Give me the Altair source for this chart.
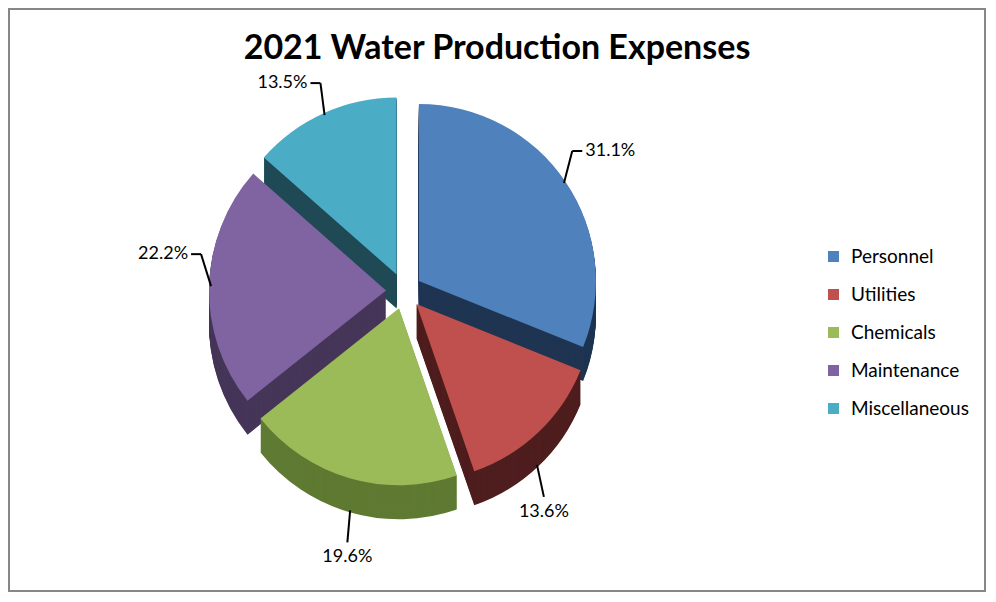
import altair as alt
import pandas as pd

# ─────────────────────────────────────────────────────────────────────────────
# DATI
# ─────────────────────────────────────────────────────────────────────────────
categorie = ["Personnel", "Utilities", "Chemicals", "Maintenance", "Miscellaneous"]
quote = [31.1, 13.6, 19.6, 22.2, 13.5]
colori_top = ["#4F81BD", "#C0504D", "#9BBB59", "#8064A2", "#4BACC6"]
colori_lato = ["#1F3552", "#4F1E1E", "#5F7A32", "#463659", "#1F4A55"]

df = pd.DataFrame({"Voce": categorie, "Quota": quote, "Ordine": range(len(categorie))})

# geometria (pixel della vista)
CX, CY = 395, 282
R = 177          # raggio della torta
ESPLOSO = 18     # distanza delle fette dal centro
SPESSORE = 34    # profondità del finto 3D
LEADER = 32      # lunghezza delle linee guida

theta_enc = alt.Theta("inizio:Q", scale=alt.Scale(domain=[0, 100], range=[0, 6.283185307]))
x_enc = alt.X("cx:Q", scale=None, axis=None)
y_enc = alt.Y("cy:Q", scale=None, axis=None)

# ─────────────────────────────────────────────────────────────────────────────
# LATI (strati scuri spostati verso il basso)
# ─────────────────────────────────────────────────────────────────────────────
lati = alt.layer(
    *[
        alt.Chart()
        .mark_arc(radius=R, yOffset=k)
        .encode(
            theta=theta_enc,
            theta2="fine:Q",
            x=x_enc,
            y=y_enc,
            color=alt.Color(
                "Voce:N", scale=alt.Scale(domain=categorie, range=colori_lato), legend=None
            ),
        )
        for k in range(SPESSORE, 0, -1)
    ]
)

# ─────────────────────────────────────────────────────────────────────────────
# FACCIA SUPERIORE
# ─────────────────────────────────────────────────────────────────────────────
top = (
    alt.Chart()
    .mark_arc(radius=R)
    .encode(
        theta=theta_enc,
        theta2="fine:Q",
        x=x_enc,
        y=y_enc,
        color=alt.Color(
            "Voce:N",
            scale=alt.Scale(domain=categorie, range=colori_top),
            legend=alt.Legend(
                title=None,
                orient="none",
                legendX=815,
                legendY=238,
                symbolType="square",
                symbolSize=121,
                symbolStrokeWidth=0,
                labelFont="Lato",
                labelFontSize=19,
                labelColor="#000000",
                rowPadding=18,
                labelOffset=8,
            ),
        ),
    )
)

# ─────────────────────────────────────────────────────────────────────────────
# LINEE GUIDA ED ETICHETTE
# ─────────────────────────────────────────────────────────────────────────────
linee = (
    alt.Chart()
    .mark_rule(color="#000000", strokeWidth=2)
    .encode(
        x=alt.X("px:Q", scale=None, axis=None),
        y=alt.Y("py:Q", scale=None, axis=None),
        x2="ex:Q",
        y2="ey:Q",
    )
)

tacche = (
    alt.Chart()
    .transform_filter("datum.c > -0.5")
    .mark_rule(color="#000000", strokeWidth=2)
    .encode(
        x=alt.X("ex:Q", scale=None, axis=None),
        y=alt.Y("ey:Q", scale=None, axis=None),
        x2="tx:Q",
        y2="ey:Q",
    )
)

testi = (
    alt.Chart()
    .mark_text(font="Lato", fontSize=18, color="#000000", align="center", baseline="middle")
    .encode(
        x=alt.X("lx:Q", scale=None, axis=None),
        y=alt.Y("ly:Q", scale=None, axis=None),
        text="etichetta:N",
    )
)

chart = (
    alt.layer(lati, top, linee, tacche, testi, data=df)
    .transform_window(fine="sum(Quota)", sort=[alt.SortField("Ordine")], frame=[None, 0])
    .transform_calculate(
        inizio="datum.fine - datum.Quota",
        medio="(datum.fine - datum.Quota / 2) * 2 * PI / 100",
        etichetta="format(datum.Quota, '.1f') + '%'",
    )
    .transform_calculate(s="sin(datum.medio)", c="cos(datum.medio)")
    .transform_calculate(
        cx=f"{CX} + {ESPLOSO} * datum.s",
        cy=f"{CY} - {ESPLOSO} * datum.c",
    )
    .transform_calculate(
        px=f"datum.cx + {R - 2} * datum.s",
        py=f"datum.cy - {R - 2} * datum.c + (datum.c < 0 ? {SPESSORE} : 0)",
    )
    .transform_calculate(
        ex=f"datum.px + 10 * datum.s",
        ey=f"datum.py - {LEADER} * (datum.c >= 0 ? 1 : -1)",
    )
    .transform_calculate(
        tx="datum.ex + (datum.s >= 0 ? 10 : -10)",
        lx="datum.c < -0.5 ? datum.ex : datum.ex + (datum.s >= 0 ? 38 : -38)",
        ly="datum.c < -0.5 ? datum.ey + 15 : datum.ey",
    )
    .resolve_scale(color="independent")
    .properties(
        width=976,
        height=582,
        padding=1,
        autosize="none",
        title=alt.TitleParams(
            "2021 Water Production Expenses",
            font="Lato",
            fontSize=34,
            fontWeight="bold",
            color="#000000",
            anchor="middle",
            offset=-57,
        ),
    )
    .configure_view(stroke="#878787", strokeWidth=2)
)

chart.save("out.html", embed_options={"renderer": "svg", "actions": False})
